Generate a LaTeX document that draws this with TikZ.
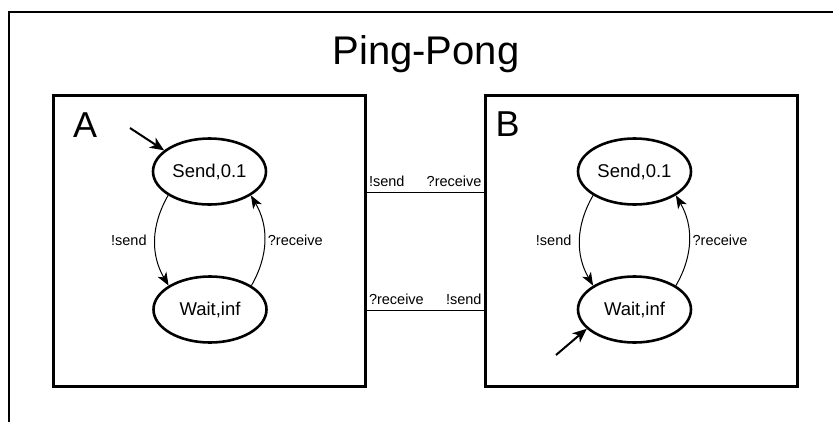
\documentclass[tikz,border=0pt]{standalone}
\usepackage{fontspec}
\setmainfont{Liberation Sans}
\usetikzlibrary{shapes.geometric,arrows.meta}
\tikzset{
  frame/.style={draw=black, line width=2.4pt, line cap=rect},
  automaton/.style={draw=black, line width=3pt, minimum width=312pt, minimum height=291pt, inner sep=0pt},
  state/.style={ellipse, draw=black, line width=2.6pt, minimum width=113pt, minimum height=66pt, inner sep=0pt, font=\fontsize{18.5}{20}\selectfont},
  trans/.style={line width=1pt, -{Stealth[length=13pt, width=10pt, inset=3.5pt]}},
  initarrow/.style={line width=2pt, -{Stealth[length=14pt, width=12pt, inset=4pt]}},
  chan/.style={line width=1pt},
  translabel/.style={font=\fontsize{14.5}{16}\selectfont, inner sep=2pt},
  chanlabel/.style={translabel, yshift=3pt},
  boxlabel/.style={font=\fontsize{36}{40}\selectfont, anchor=base west, inner sep=0pt},
  titlelabel/.style={font=\fontsize{40}{44}\selectfont, anchor=base, inner sep=0pt},
}

\begin{document}
\begin{tikzpicture}[x=1pt, y=-1pt]
\useasboundingbox (0,0) rectangle (833,421);
\draw[frame] (9,430) -- (9,12) -- (840,12);
\node[titlelabel] (title) at (426,64) {Ping-Pong};
\node[automaton] (boxA) at (209,240.5) {};
\node[automaton] (boxB) at (641.5,240.5) {};
\node[boxlabel] (labA) at (73,137) {A};
\node[boxlabel] (labB) at (495.5,136) {B};
\node[state] (aSend) at (209.5,171.5) {Send,0.1};
\node[state] (aWait) at (210,309.5) {Wait,inf};
\node[state] (bSend) at (634.5,171.5) {Send,0.1};
\node[state] (bWait) at (634.5,309.5) {Wait,inf};
\coordinate (aStart) at (130,128);
\coordinate (bStart) at (556,355);
\draw[initarrow] (aStart) -- (aSend.155);
\draw[initarrow] (bStart) -- (bWait.202);
\draw[trans] (aSend.210) to[bend right=30] node[translabel, left=6pt] {!send} (aWait.150);
\draw[trans] (aWait.30) to[bend right=30] node[translabel, right=1pt] {?receive} (aSend.330);
\draw[trans] (bSend.210) to[bend right=30] node[translabel, left=6pt] {!send} (bWait.150);
\draw[trans] (bWait.30) to[bend right=30] node[translabel, right=1pt] {?receive} (bSend.330);
\draw[chan] (boxA.east |- 0,192) -- node[chanlabel, pos=0, anchor=south west] {!send} node[chanlabel, pos=1, anchor=south east] {?receive} (boxB.west |- 0,192);
\draw[chan] (boxA.east |- 0,310) -- node[chanlabel, pos=0, anchor=south west] {?receive} node[chanlabel, pos=1, anchor=south east] {!send} (boxB.west |- 0,310);
\end{tikzpicture}
\end{document}
